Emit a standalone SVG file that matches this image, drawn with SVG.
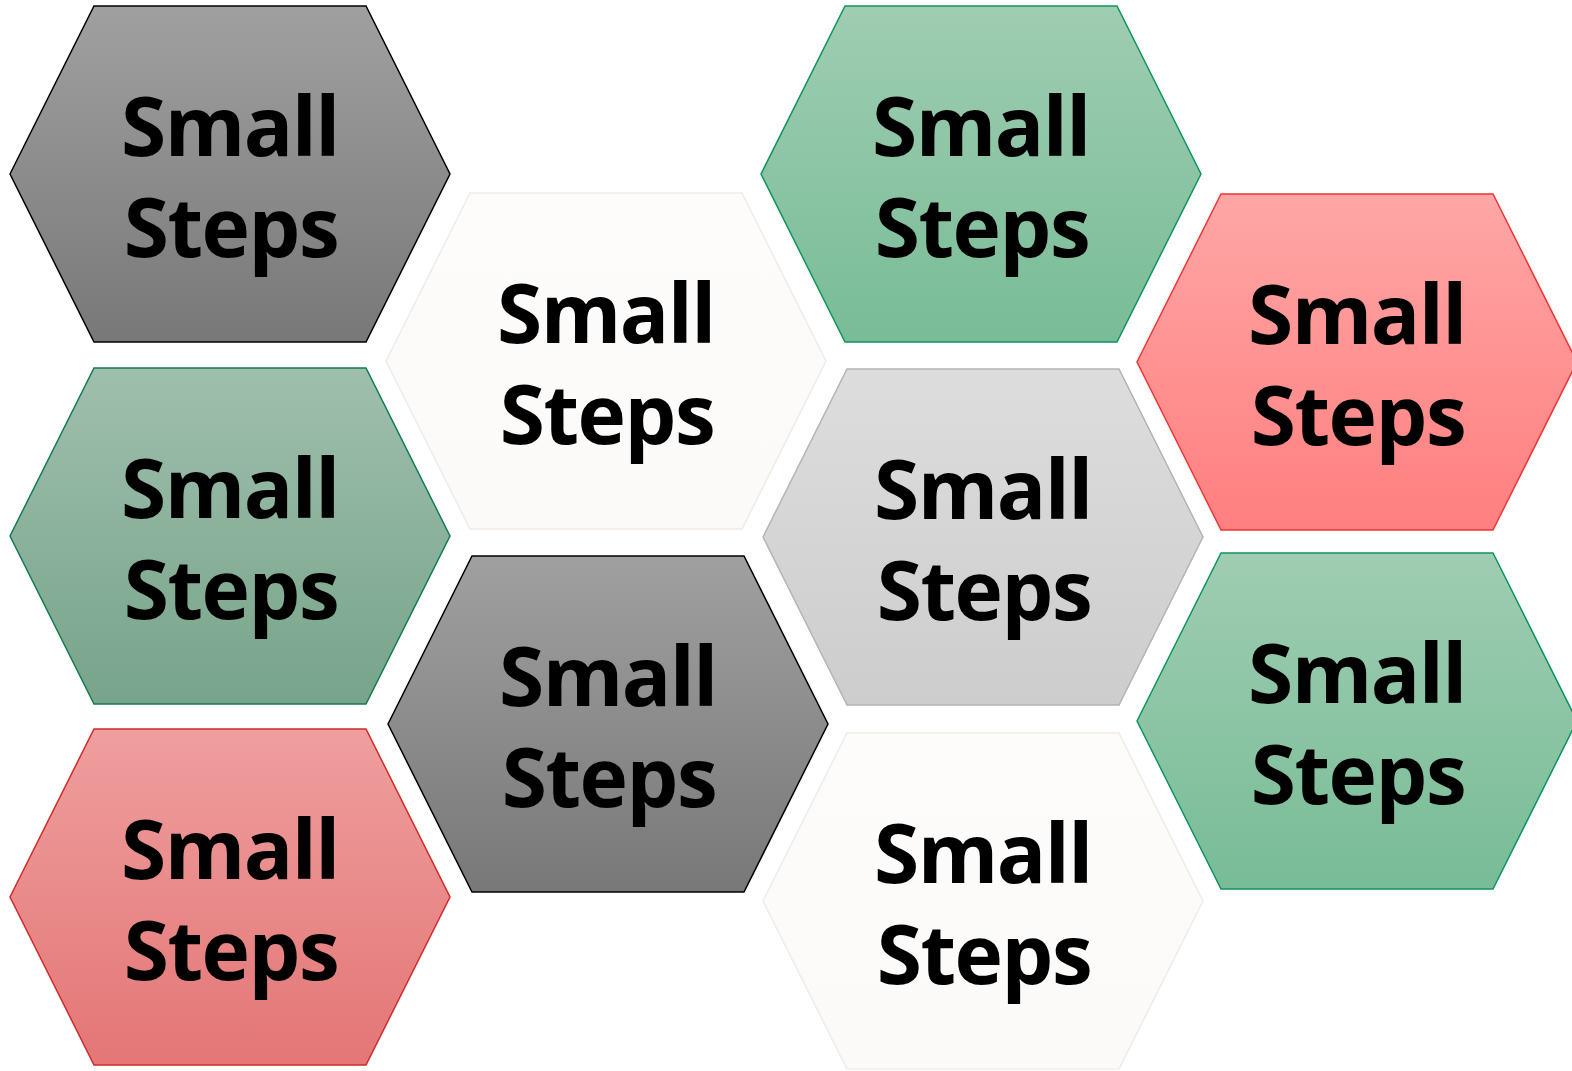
<svg xmlns="http://www.w3.org/2000/svg" width="1572" height="1071" viewBox="0 0 1572 1071">
<defs>
<linearGradient id="gDark" x1="0" y1="0" x2="0" y2="1"><stop offset="0" stop-color="#a0a0a0"/><stop offset="1" stop-color="#787878"/></linearGradient>
<linearGradient id="gSage" x1="0" y1="0" x2="0" y2="1"><stop offset="0" stop-color="#9fbfad"/><stop offset="1" stop-color="#77a48a"/></linearGradient>
<linearGradient id="gRose" x1="0" y1="0" x2="0" y2="1"><stop offset="0" stop-color="#ef9e9e"/><stop offset="1" stop-color="#e47676"/></linearGradient>
<linearGradient id="gWhite" x1="0" y1="0" x2="0" y2="1"><stop offset="0" stop-color="#fdfcfb"/><stop offset="1" stop-color="#fbfaf9"/></linearGradient>
<linearGradient id="gGreen" x1="0" y1="0" x2="0" y2="1"><stop offset="0" stop-color="#9fcdb2"/><stop offset="1" stop-color="#78bc97"/></linearGradient>
<linearGradient id="gLight" x1="0" y1="0" x2="0" y2="1"><stop offset="0" stop-color="#dddddd"/><stop offset="1" stop-color="#cdcdcd"/></linearGradient>
<linearGradient id="gRed" x1="0" y1="0" x2="0" y2="1"><stop offset="0" stop-color="#ffa6a6"/><stop offset="1" stop-color="#ff7f7f"/></linearGradient>
<polygon id="hex" points="0,168 84,0 356,0 440,168 356,336 84,336"/>
</defs>
<style>
.t{font-family:"Segoe UI","Open Sans","Noto Sans","Liberation Sans",sans-serif;font-weight:bold;font-size:82px;letter-spacing:-1.5px;fill:#000;text-anchor:middle}
.dark{fill:url(#gDark);stroke:#000;stroke-width:1.5}
.sage{fill:url(#gSage);stroke:#137a52;stroke-width:1.5}
.rose{fill:url(#gRose);stroke:#d02a2a;stroke-width:1.5}
.white{fill:url(#gWhite);stroke:#f0ebe7;stroke-width:1.5}
.green{fill:url(#gGreen);stroke:#0e9460;stroke-width:1.5}
.light{fill:url(#gLight);stroke:#b4b4b4;stroke-width:1.5}
.red{fill:url(#gRed);stroke:#ee3535;stroke-width:1.5}
</style>
<g id="hex1" transform="translate(10,6)"><use href="#hex" class="dark"/><text class="t" x="220" y="150">Small</text><text class="t" x="221" y="251">Steps</text></g>
<g id="hex2" transform="translate(10,368)"><use href="#hex" class="sage"/><text class="t" x="220" y="150">Small</text><text class="t" x="221" y="251">Steps</text></g>
<g id="hex3" transform="translate(10,729)"><use href="#hex" class="rose"/><text class="t" x="220" y="150">Small</text><text class="t" x="221" y="251">Steps</text></g>
<g id="hex4" transform="translate(386,193)"><use href="#hex" class="white"/><text class="t" x="220" y="150">Small</text><text class="t" x="221" y="251">Steps</text></g>
<g id="hex5" transform="translate(388,556)"><use href="#hex" class="dark"/><text class="t" x="220" y="150">Small</text><text class="t" x="221" y="251">Steps</text></g>
<g id="hex6" transform="translate(761,6)"><use href="#hex" class="green"/><text class="t" x="220" y="150">Small</text><text class="t" x="221" y="251">Steps</text></g>
<g id="hex7" transform="translate(763,369)"><use href="#hex" class="light"/><text class="t" x="220" y="150">Small</text><text class="t" x="221" y="251">Steps</text></g>
<g id="hex8" transform="translate(763,733)"><use href="#hex" class="white"/><text class="t" x="220" y="150">Small</text><text class="t" x="221" y="251">Steps</text></g>
<g id="hex9" transform="translate(1137,194)"><use href="#hex" class="red"/><text class="t" x="220" y="150">Small</text><text class="t" x="221" y="251">Steps</text></g>
<g id="hex10" transform="translate(1137,553)"><use href="#hex" class="green"/><text class="t" x="220" y="150">Small</text><text class="t" x="221" y="251">Steps</text></g>
<g id="connectors"/>
</svg>
